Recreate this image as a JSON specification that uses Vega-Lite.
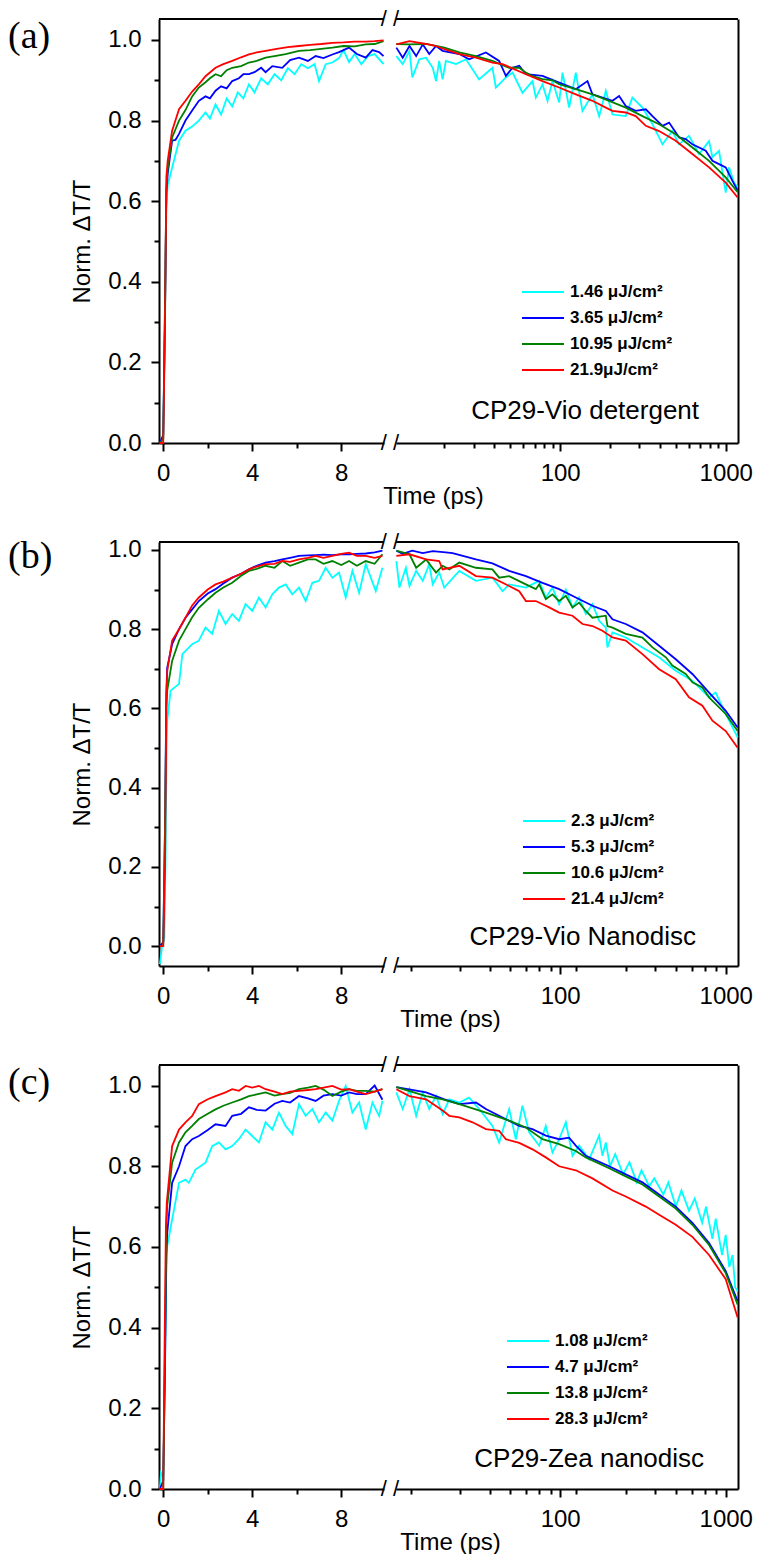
{
"$schema": "https://vega.github.io/schema/vega-lite/v6.json",
"padding": {"left": 8, "top": 8, "right": 5, "bottom": 5},
"background": "white",
"config": {
  "font": "Liberation Sans",
  "view": {"stroke": null},
  "axis": {"domainColor": "black", "domainWidth": 2, "tickColor": "black", "tickWidth": 2, "labelColor": "black", "labelFont": "Liberation Sans", "labelFontSize": 24, "titleFont": "Liberation Sans", "titleFontSize": 24, "titleFontWeight": "normal", "titleColor": "black", "grid": false, "labelFlush": false, "labelOverlap": false, "labelBound": false},
  "legend": {"labelFont": "Liberation Sans"}
},
"datasets": {
"a": [
{"s":1,"t":-0.15,"v":0},{"s":1,"t":0,"v":0.01},{"s":1,"t":0.08,"v":0.3},{"s":1,"t":0.14,"v":0.58},{"s":1,"t":0.2,"v":0.64},{"s":1,"t":0.4,"v":0.683},{"s":1,"t":0.71,"v":0.75},{"s":1,"t":1,"v":0.775},{"s":1,"t":1.3,"v":0.785},{"s":1,"t":1.6,"v":0.8},{"s":1,"t":1.9,"v":0.82},{"s":1,"t":2.1,"v":0.805},{"s":1,"t":2.35,"v":0.84},{"s":1,"t":2.6,"v":0.815},{"s":1,"t":2.85,"v":0.855},{"s":1,"t":3.1,"v":0.835},{"s":1,"t":3.35,"v":0.87},{"s":1,"t":3.6,"v":0.855},{"s":1,"t":3.85,"v":0.89},{"s":1,"t":4.1,"v":0.87},{"s":1,"t":4.4,"v":0.905},{"s":1,"t":4.7,"v":0.89},{"s":1,"t":5,"v":0.915},{"s":1,"t":5.3,"v":0.9},{"s":1,"t":5.6,"v":0.93},{"s":1,"t":5.9,"v":0.915},{"s":1,"t":6.2,"v":0.94},{"s":1,"t":6.5,"v":0.93},{"s":1,"t":6.8,"v":0.94},{"s":1,"t":7,"v":0.898},{"s":1,"t":7.3,"v":0.94},{"s":1,"t":7.6,"v":0.944},{"s":1,"t":7.9,"v":0.955},{"s":1,"t":8.1,"v":0.975},{"s":1,"t":8.35,"v":0.945},{"s":1,"t":8.6,"v":0.965},{"s":1,"t":8.9,"v":0.94},{"s":1,"t":9.2,"v":0.96},{"s":1,"t":9.5,"v":0.965},{"s":1,"t":9.9,"v":0.94},
{"s":1,"t":10.25,"v":0.96},{"s":1,"t":11.2,"v":0.94},{"s":1,"t":12.3,"v":0.973},{"s":1,"t":12.8,"v":0.907},{"s":1,"t":14.1,"v":0.952},{"s":1,"t":15.5,"v":0.956},{"s":1,"t":17,"v":0.931},{"s":1,"t":17.8,"v":0.898},{"s":1,"t":18.6,"v":0.948},{"s":1,"t":19.5,"v":0.902},{"s":1,"t":20.4,"v":0.948},{"s":1,"t":23.5,"v":0.94},{"s":1,"t":27,"v":0.952},{"s":1,"t":32.4,"v":0.902},{"s":1,"t":39,"v":0.931},{"s":1,"t":40.9,"v":0.882},{"s":1,"t":47,"v":0.907},{"s":1,"t":51.6,"v":0.919},{"s":1,"t":59.2,"v":0.869},{"s":1,"t":68.1,"v":0.898},{"s":1,"t":71.3,"v":0.857},{"s":1,"t":78.2,"v":0.89},{"s":1,"t":83.9,"v":0.849},{"s":1,"t":89.9,"v":0.898},{"s":1,"t":98.6,"v":0.845},{"s":1,"t":103.3,"v":0.919},{"s":1,"t":113.3,"v":0.832},{"s":1,"t":124.3,"v":0.919},{"s":1,"t":136.4,"v":0.824},{"s":1,"t":156.7,"v":0.865},{"s":1,"t":172,"v":0.811},{"s":1,"t":188.7,"v":0.874},{"s":1,"t":207,"v":0.815},{"s":1,"t":249,"v":0.811},{"s":1,"t":273,"v":0.857},{"s":1,"t":314,"v":0.832},{"s":1,"t":361,"v":0.791},{"s":1,"t":415,"v":0.741},{"s":1,"t":476,"v":0.774},{"s":1,"t":523,"v":0.741},{"s":1,"t":600,"v":0.762},{"s":1,"t":690,"v":0.717},{"s":1,"t":793,"v":0.749},{"s":1,"t":831,"v":0.709},{"s":1,"t":911,"v":0.725},{"s":1,"t":1000,"v":0.621},{"s":1,"t":1047,"v":0.684},{"s":1,"t":1122,"v":0.646},{"s":1,"t":1180,"v":0.634},
{"s":2,"t":-0.15,"v":0},{"s":2,"t":0,"v":0.02},{"s":2,"t":0.08,"v":0.33},{"s":2,"t":0.14,"v":0.62},{"s":2,"t":0.2,"v":0.668},{"s":2,"t":0.4,"v":0.75},{"s":2,"t":0.55,"v":0.752},{"s":2,"t":0.71,"v":0.767},{"s":2,"t":1,"v":0.8},{"s":2,"t":1.3,"v":0.825},{"s":2,"t":1.6,"v":0.849},{"s":2,"t":1.9,"v":0.86},{"s":2,"t":2.1,"v":0.855},{"s":2,"t":2.35,"v":0.874},{"s":2,"t":2.6,"v":0.885},{"s":2,"t":2.85,"v":0.88},{"s":2,"t":3.1,"v":0.898},{"s":2,"t":3.4,"v":0.905},{"s":2,"t":3.6,"v":0.915},{"s":2,"t":3.85,"v":0.915},{"s":2,"t":4.1,"v":0.92},{"s":2,"t":4.4,"v":0.931},{"s":2,"t":4.6,"v":0.92},{"s":2,"t":4.9,"v":0.935},{"s":2,"t":5.35,"v":0.931},{"s":2,"t":5.7,"v":0.95},{"s":2,"t":6.1,"v":0.956},{"s":2,"t":6.5,"v":0.948},{"s":2,"t":6.85,"v":0.96},{"s":2,"t":7.2,"v":0.955},{"s":2,"t":7.6,"v":0.964},{"s":2,"t":7.9,"v":0.97},{"s":2,"t":8.35,"v":0.981},{"s":2,"t":8.7,"v":0.965},{"s":2,"t":9.1,"v":0.956},{"s":2,"t":9.4,"v":0.975},{"s":2,"t":9.7,"v":0.97},{"s":2,"t":9.9,"v":0.96},
{"s":2,"t":10.25,"v":0.981},{"s":2,"t":11.2,"v":0.956},{"s":2,"t":12.3,"v":0.985},{"s":2,"t":13.5,"v":0.96},{"s":2,"t":14.8,"v":0.989},{"s":2,"t":16.2,"v":0.965},{"s":2,"t":17.8,"v":0.985},{"s":2,"t":19.5,"v":0.973},{"s":2,"t":24.6,"v":0.965},{"s":2,"t":28.2,"v":0.952},{"s":2,"t":35.6,"v":0.969},{"s":2,"t":42.8,"v":0.948},{"s":2,"t":47,"v":0.911},{"s":2,"t":51.6,"v":0.931},{"s":2,"t":56.6,"v":0.936},{"s":2,"t":62.1,"v":0.915},{"s":2,"t":78.2,"v":0.911},{"s":2,"t":98.6,"v":0.894},{"s":2,"t":124.3,"v":0.878},{"s":2,"t":146.2,"v":0.898},{"s":2,"t":156.7,"v":0.865},{"s":2,"t":207,"v":0.849},{"s":2,"t":227,"v":0.861},{"s":2,"t":249,"v":0.836},{"s":2,"t":286,"v":0.824},{"s":2,"t":329,"v":0.828},{"s":2,"t":361,"v":0.811},{"s":2,"t":415,"v":0.787},{"s":2,"t":455,"v":0.795},{"s":2,"t":523,"v":0.758},{"s":2,"t":573,"v":0.754},{"s":2,"t":629,"v":0.741},{"s":2,"t":757,"v":0.725},{"s":2,"t":831,"v":0.7},{"s":2,"t":911,"v":0.692},{"s":2,"t":1000,"v":0.684},{"s":2,"t":1096,"v":0.651},{"s":2,"t":1180,"v":0.626},
{"s":3,"t":-0.15,"v":0},{"s":3,"t":0,"v":0.01},{"s":3,"t":0.08,"v":0.35},{"s":3,"t":0.14,"v":0.63},{"s":3,"t":0.2,"v":0.68},{"s":3,"t":0.4,"v":0.758},{"s":3,"t":0.71,"v":0.8},{"s":3,"t":1,"v":0.826},{"s":3,"t":1.3,"v":0.86},{"s":3,"t":1.6,"v":0.882},{"s":3,"t":1.9,"v":0.895},{"s":3,"t":2.1,"v":0.905},{"s":3,"t":2.35,"v":0.915},{"s":3,"t":2.6,"v":0.91},{"s":3,"t":2.85,"v":0.925},{"s":3,"t":3.1,"v":0.931},{"s":3,"t":3.5,"v":0.935},{"s":3,"t":3.85,"v":0.944},{"s":3,"t":4.2,"v":0.948},{"s":3,"t":4.6,"v":0.956},{"s":3,"t":5,"v":0.96},{"s":3,"t":5.5,"v":0.965},{"s":3,"t":6.1,"v":0.973},{"s":3,"t":6.6,"v":0.975},{"s":3,"t":7.1,"v":0.978},{"s":3,"t":7.6,"v":0.981},{"s":3,"t":8.1,"v":0.985},{"s":3,"t":8.6,"v":0.984},{"s":3,"t":9.1,"v":0.989},{"s":3,"t":9.5,"v":0.99},{"s":3,"t":9.9,"v":0.997},
{"s":3,"t":10.25,"v":0.99},{"s":3,"t":12.3,"v":0.989},{"s":3,"t":15.5,"v":0.99},{"s":3,"t":20,"v":0.981},{"s":3,"t":24.6,"v":0.969},{"s":3,"t":31,"v":0.96},{"s":3,"t":39,"v":0.948},{"s":3,"t":49.2,"v":0.931},{"s":3,"t":56.6,"v":0.931},{"s":3,"t":62.1,"v":0.919},{"s":3,"t":68.1,"v":0.91},{"s":3,"t":78.2,"v":0.903},{"s":3,"t":89.9,"v":0.9},{"s":3,"t":98.6,"v":0.89},{"s":3,"t":124.3,"v":0.878},{"s":3,"t":156.7,"v":0.865},{"s":3,"t":197.6,"v":0.849},{"s":3,"t":249,"v":0.832},{"s":3,"t":314,"v":0.811},{"s":3,"t":396,"v":0.791},{"s":3,"t":499,"v":0.766},{"s":3,"t":629,"v":0.733},{"s":3,"t":793,"v":0.7},{"s":3,"t":1000,"v":0.659},{"s":3,"t":1180,"v":0.622},
{"s":4,"t":-0.15,"v":0},{"s":4,"t":0,"v":0},{"s":4,"t":0.08,"v":0.3},{"s":4,"t":0.14,"v":0.66},{"s":4,"t":0.2,"v":0.7},{"s":4,"t":0.4,"v":0.775},{"s":4,"t":0.71,"v":0.828},{"s":4,"t":1,"v":0.849},{"s":4,"t":1.3,"v":0.872},{"s":4,"t":1.6,"v":0.89},{"s":4,"t":1.9,"v":0.91},{"s":4,"t":2.35,"v":0.931},{"s":4,"t":2.7,"v":0.94},{"s":4,"t":3.1,"v":0.948},{"s":4,"t":3.5,"v":0.957},{"s":4,"t":3.85,"v":0.964},{"s":4,"t":4.2,"v":0.969},{"s":4,"t":4.6,"v":0.973},{"s":4,"t":5.1,"v":0.978},{"s":4,"t":5.6,"v":0.982},{"s":4,"t":6.1,"v":0.985},{"s":4,"t":6.6,"v":0.988},{"s":4,"t":7.1,"v":0.99},{"s":4,"t":7.6,"v":0.993},{"s":4,"t":8.1,"v":0.994},{"s":4,"t":8.6,"v":0.996},{"s":4,"t":9.1,"v":0.996},{"s":4,"t":9.5,"v":0.997},{"s":4,"t":9.9,"v":0.999},
{"s":4,"t":10.25,"v":0.989},{"s":4,"t":12.3,"v":0.997},{"s":4,"t":15.5,"v":0.99},{"s":4,"t":17.8,"v":0.985},{"s":4,"t":20,"v":0.977},{"s":4,"t":24.6,"v":0.965},{"s":4,"t":31,"v":0.956},{"s":4,"t":39,"v":0.944},{"s":4,"t":44.9,"v":0.94},{"s":4,"t":62.1,"v":0.915},{"s":4,"t":78.2,"v":0.898},{"s":4,"t":98.6,"v":0.882},{"s":4,"t":124.3,"v":0.865},{"s":4,"t":156.7,"v":0.849},{"s":4,"t":188.7,"v":0.832},{"s":4,"t":207,"v":0.824},{"s":4,"t":249,"v":0.82},{"s":4,"t":286,"v":0.811},{"s":4,"t":329,"v":0.787},{"s":4,"t":396,"v":0.774},{"s":4,"t":499,"v":0.75},{"s":4,"t":629,"v":0.717},{"s":4,"t":793,"v":0.684},{"s":4,"t":1000,"v":0.646},{"s":4,"t":1180,"v":0.609}
],
"b": [
{"s":1,"t":-0.15,"v":-0.045},{"s":1,"t":-0.05,"v":0},{"s":1,"t":0.05,"v":0.02},{"s":1,"t":0.1,"v":0.2},{"s":1,"t":0.15,"v":0.5},{"s":1,"t":0.18,"v":0.569},{"s":1,"t":0.33,"v":0.645},{"s":1,"t":0.71,"v":0.662},{"s":1,"t":0.86,"v":0.737},{"s":1,"t":1.3,"v":0.762},{"s":1,"t":1.6,"v":0.771},{"s":1,"t":1.9,"v":0.804},{"s":1,"t":2.2,"v":0.788},{"s":1,"t":2.5,"v":0.846},{"s":1,"t":2.8,"v":0.813},{"s":1,"t":3.1,"v":0.838},{"s":1,"t":3.4,"v":0.821},{"s":1,"t":3.7,"v":0.863},{"s":1,"t":4,"v":0.846},{"s":1,"t":4.3,"v":0.88},{"s":1,"t":4.6,"v":0.855},{"s":1,"t":4.9,"v":0.888},{"s":1,"t":5.2,"v":0.905},{"s":1,"t":5.5,"v":0.913},{"s":1,"t":5.8,"v":0.888},{"s":1,"t":6.1,"v":0.905},{"s":1,"t":6.4,"v":0.871},{"s":1,"t":6.7,"v":0.917},{"s":1,"t":7,"v":0.922},{"s":1,"t":7.3,"v":0.955},{"s":1,"t":7.6,"v":0.93},{"s":1,"t":7.9,"v":0.943},{"s":1,"t":8.2,"v":0.88},{"s":1,"t":8.5,"v":0.947},{"s":1,"t":8.8,"v":0.892},{"s":1,"t":9.1,"v":0.964},{"s":1,"t":9.55,"v":0.896},{"s":1,"t":9.85,"v":0.955},
{"s":1,"t":10.25,"v":0.972},{"s":1,"t":10.7,"v":0.905},{"s":1,"t":11.7,"v":0.955},{"s":1,"t":12.3,"v":0.909},{"s":1,"t":13.5,"v":0.947},{"s":1,"t":14.8,"v":0.922},{"s":1,"t":16.2,"v":0.964},{"s":1,"t":17,"v":0.913},{"s":1,"t":18.6,"v":0.943},{"s":1,"t":19.95,"v":0.905},{"s":1,"t":24.6,"v":0.947},{"s":1,"t":31,"v":0.922},{"s":1,"t":39,"v":0.93},{"s":1,"t":44.9,"v":0.896},{"s":1,"t":49.2,"v":0.913},{"s":1,"t":62.1,"v":0.905},{"s":1,"t":74.7,"v":0.922},{"s":1,"t":81.9,"v":0.88},{"s":1,"t":89.9,"v":0.905},{"s":1,"t":98.6,"v":0.863},{"s":1,"t":108.2,"v":0.9},{"s":1,"t":118.7,"v":0.855},{"s":1,"t":130.2,"v":0.88},{"s":1,"t":142.9,"v":0.838},{"s":1,"t":156.7,"v":0.863},{"s":1,"t":172,"v":0.821},{"s":1,"t":188.7,"v":0.804},{"s":1,"t":193,"v":0.754},{"s":1,"t":207,"v":0.792},{"s":1,"t":249,"v":0.779},{"s":1,"t":314,"v":0.754},{"s":1,"t":396,"v":0.729},{"s":1,"t":499,"v":0.695},{"s":1,"t":629,"v":0.67},{"s":1,"t":793,"v":0.628},{"s":1,"t":869,"v":0.64},{"s":1,"t":1000,"v":0.586},{"s":1,"t":1180,"v":0.527},
{"s":2,"t":-0.15,"v":0},{"s":2,"t":0,"v":0.01},{"s":2,"t":0.08,"v":0.3},{"s":2,"t":0.14,"v":0.64},{"s":2,"t":0.18,"v":0.703},{"s":2,"t":0.4,"v":0.762},{"s":2,"t":0.71,"v":0.8},{"s":2,"t":1,"v":0.829},{"s":2,"t":1.3,"v":0.85},{"s":2,"t":1.6,"v":0.871},{"s":2,"t":2,"v":0.89},{"s":2,"t":2.35,"v":0.901},{"s":2,"t":2.7,"v":0.915},{"s":2,"t":3.1,"v":0.93},{"s":2,"t":3.5,"v":0.94},{"s":2,"t":3.85,"v":0.951},{"s":2,"t":4.2,"v":0.96},{"s":2,"t":4.6,"v":0.968},{"s":2,"t":5,"v":0.972},{"s":2,"t":5.35,"v":0.976},{"s":2,"t":5.7,"v":0.98},{"s":2,"t":6.1,"v":0.985},{"s":2,"t":6.5,"v":0.986},{"s":2,"t":6.85,"v":0.987},{"s":2,"t":7.2,"v":0.988},{"s":2,"t":7.6,"v":0.987},{"s":2,"t":8,"v":0.989},{"s":2,"t":8.35,"v":0.989},{"s":2,"t":8.7,"v":0.99},{"s":2,"t":9.1,"v":0.991},{"s":2,"t":9.5,"v":0.994},{"s":2,"t":9.85,"v":0.998},
{"s":2,"t":10.25,"v":0.998},{"s":2,"t":11.2,"v":0.99},{"s":2,"t":12.8,"v":0.998},{"s":2,"t":14.8,"v":0.992},{"s":2,"t":17,"v":0.997},{"s":2,"t":20.4,"v":0.994},{"s":2,"t":22.4,"v":0.992},{"s":2,"t":31,"v":0.976},{"s":2,"t":39,"v":0.966},{"s":2,"t":49.2,"v":0.947},{"s":2,"t":62.1,"v":0.934},{"s":2,"t":78.2,"v":0.917},{"s":2,"t":98.6,"v":0.901},{"s":2,"t":124.3,"v":0.88},{"s":2,"t":156.7,"v":0.859},{"s":2,"t":188.7,"v":0.846},{"s":2,"t":207,"v":0.825},{"s":2,"t":249,"v":0.813},{"s":2,"t":314,"v":0.792},{"s":2,"t":396,"v":0.758},{"s":2,"t":499,"v":0.724},{"s":2,"t":629,"v":0.687},{"s":2,"t":793,"v":0.64},{"s":2,"t":1000,"v":0.594},{"s":2,"t":1180,"v":0.552},
{"s":3,"t":-0.15,"v":0},{"s":3,"t":0,"v":0},{"s":3,"t":0.08,"v":0.3},{"s":3,"t":0.14,"v":0.6},{"s":3,"t":0.18,"v":0.645},{"s":3,"t":0.4,"v":0.72},{"s":3,"t":0.71,"v":0.771},{"s":3,"t":1,"v":0.8},{"s":3,"t":1.3,"v":0.83},{"s":3,"t":1.6,"v":0.854},{"s":3,"t":2,"v":0.875},{"s":3,"t":2.35,"v":0.892},{"s":3,"t":2.7,"v":0.905},{"s":3,"t":3.1,"v":0.917},{"s":3,"t":3.5,"v":0.935},{"s":3,"t":3.85,"v":0.947},{"s":3,"t":4.2,"v":0.952},{"s":3,"t":4.6,"v":0.96},{"s":3,"t":5,"v":0.955},{"s":3,"t":5.35,"v":0.972},{"s":3,"t":5.7,"v":0.96},{"s":3,"t":6.1,"v":0.968},{"s":3,"t":6.5,"v":0.976},{"s":3,"t":6.85,"v":0.976},{"s":3,"t":7.2,"v":0.965},{"s":3,"t":7.6,"v":0.972},{"s":3,"t":8,"v":0.962},{"s":3,"t":8.35,"v":0.972},{"s":3,"t":8.7,"v":0.96},{"s":3,"t":9.1,"v":0.972},{"s":3,"t":9.5,"v":0.965},{"s":3,"t":9.85,"v":0.989},
{"s":3,"t":10.25,"v":0.998},{"s":3,"t":12.3,"v":0.989},{"s":3,"t":13.5,"v":0.955},{"s":3,"t":15.5,"v":0.976},{"s":3,"t":17.8,"v":0.943},{"s":3,"t":19.5,"v":0.96},{"s":3,"t":21.4,"v":0.951},{"s":3,"t":24.6,"v":0.968},{"s":3,"t":31,"v":0.955},{"s":3,"t":39,"v":0.951},{"s":3,"t":42.8,"v":0.93},{"s":3,"t":49.2,"v":0.934},{"s":3,"t":62.1,"v":0.913},{"s":3,"t":71.3,"v":0.901},{"s":3,"t":74.7,"v":0.913},{"s":3,"t":81.9,"v":0.876},{"s":3,"t":89.9,"v":0.888},{"s":3,"t":98.6,"v":0.871},{"s":3,"t":108.2,"v":0.884},{"s":3,"t":118.7,"v":0.855},{"s":3,"t":130.2,"v":0.867},{"s":3,"t":142.9,"v":0.846},{"s":3,"t":156.7,"v":0.829},{"s":3,"t":188.7,"v":0.834},{"s":3,"t":193,"v":0.808},{"s":3,"t":207,"v":0.804},{"s":3,"t":249,"v":0.788},{"s":3,"t":314,"v":0.779},{"s":3,"t":361,"v":0.754},{"s":3,"t":435,"v":0.729},{"s":3,"t":476,"v":0.708},{"s":3,"t":573,"v":0.687},{"s":3,"t":629,"v":0.666},{"s":3,"t":723,"v":0.653},{"s":3,"t":793,"v":0.628},{"s":3,"t":1000,"v":0.586},{"s":3,"t":1180,"v":0.543},
{"s":4,"t":-0.15,"v":0},{"s":4,"t":0,"v":0},{"s":4,"t":0.08,"v":0.2},{"s":4,"t":0.14,"v":0.62},{"s":4,"t":0.18,"v":0.695},{"s":4,"t":0.4,"v":0.771},{"s":4,"t":0.71,"v":0.8},{"s":4,"t":1,"v":0.829},{"s":4,"t":1.3,"v":0.86},{"s":4,"t":1.6,"v":0.88},{"s":4,"t":2,"v":0.9},{"s":4,"t":2.35,"v":0.913},{"s":4,"t":2.7,"v":0.92},{"s":4,"t":3.1,"v":0.93},{"s":4,"t":3.5,"v":0.94},{"s":4,"t":3.85,"v":0.951},{"s":4,"t":4.2,"v":0.958},{"s":4,"t":4.6,"v":0.964},{"s":4,"t":5,"v":0.965},{"s":4,"t":5.35,"v":0.972},{"s":4,"t":5.7,"v":0.97},{"s":4,"t":6.1,"v":0.976},{"s":4,"t":6.5,"v":0.98},{"s":4,"t":6.85,"v":0.985},{"s":4,"t":7.2,"v":0.98},{"s":4,"t":7.6,"v":0.985},{"s":4,"t":8,"v":0.99},{"s":4,"t":8.35,"v":0.993},{"s":4,"t":8.7,"v":0.985},{"s":4,"t":9.1,"v":0.985},{"s":4,"t":9.5,"v":0.98},{"s":4,"t":9.85,"v":0.985},
{"s":4,"t":10.25,"v":0.985},{"s":4,"t":12.3,"v":0.989},{"s":4,"t":15.5,"v":0.976},{"s":4,"t":18.6,"v":0.972},{"s":4,"t":19.5,"v":0.951},{"s":4,"t":24.6,"v":0.96},{"s":4,"t":31,"v":0.934},{"s":4,"t":39,"v":0.93},{"s":4,"t":49.2,"v":0.909},{"s":4,"t":56.6,"v":0.896},{"s":4,"t":62.1,"v":0.871},{"s":4,"t":71.3,"v":0.871},{"s":4,"t":78.2,"v":0.863},{"s":4,"t":85.8,"v":0.855},{"s":4,"t":98.6,"v":0.842},{"s":4,"t":118.7,"v":0.834},{"s":4,"t":136.4,"v":0.813},{"s":4,"t":156.7,"v":0.808},{"s":4,"t":180,"v":0.796},{"s":4,"t":207,"v":0.779},{"s":4,"t":249,"v":0.771},{"s":4,"t":314,"v":0.737},{"s":4,"t":396,"v":0.699},{"s":4,"t":499,"v":0.674},{"s":4,"t":600,"v":0.628},{"s":4,"t":723,"v":0.607},{"s":4,"t":831,"v":0.569},{"s":4,"t":1000,"v":0.543},{"s":4,"t":1180,"v":0.501}
],
"c": [
{"s":1,"t":-0.15,"v":0},{"s":1,"t":-0.1,"v":0.04},{"s":1,"t":0,"v":0.03},{"s":1,"t":0.08,"v":0.3},{"s":1,"t":0.14,"v":0.55},{"s":1,"t":0.18,"v":0.602},{"s":1,"t":0.4,"v":0.668},{"s":1,"t":0.71,"v":0.759},{"s":1,"t":1,"v":0.767},{"s":1,"t":1.15,"v":0.759},{"s":1,"t":1.45,"v":0.792},{"s":1,"t":1.9,"v":0.809},{"s":1,"t":2.2,"v":0.85},{"s":1,"t":2.5,"v":0.859},{"s":1,"t":2.8,"v":0.842},{"s":1,"t":3.1,"v":0.85},{"s":1,"t":3.4,"v":0.867},{"s":1,"t":3.7,"v":0.891},{"s":1,"t":4,"v":0.875},{"s":1,"t":4.3,"v":0.859},{"s":1,"t":4.6,"v":0.909},{"s":1,"t":4.9,"v":0.891},{"s":1,"t":5.2,"v":0.933},{"s":1,"t":5.5,"v":0.9},{"s":1,"t":5.8,"v":0.88},{"s":1,"t":6.1,"v":0.954},{"s":1,"t":6.4,"v":0.925},{"s":1,"t":6.7,"v":0.942},{"s":1,"t":7,"v":0.909},{"s":1,"t":7.3,"v":0.933},{"s":1,"t":7.6,"v":0.913},{"s":1,"t":7.9,"v":0.962},{"s":1,"t":8.2,"v":0.999},{"s":1,"t":8.5,"v":0.933},{"s":1,"t":8.8,"v":0.958},{"s":1,"t":9.1,"v":0.891},{"s":1,"t":9.4,"v":0.958},{"s":1,"t":9.7,"v":0.925},{"s":1,"t":9.85,"v":0.962},
{"s":1,"t":10.25,"v":0.983},{"s":1,"t":11.2,"v":0.942},{"s":1,"t":12.3,"v":0.991},{"s":1,"t":13.5,"v":0.925},{"s":1,"t":14.8,"v":0.983},{"s":1,"t":16.2,"v":0.942},{"s":1,"t":17.8,"v":0.974},{"s":1,"t":19.5,"v":0.929},{"s":1,"t":21.4,"v":0.966},{"s":1,"t":24.6,"v":0.958},{"s":1,"t":28.2,"v":0.97},{"s":1,"t":32.4,"v":0.942},{"s":1,"t":39,"v":0.9},{"s":1,"t":42.8,"v":0.859},{"s":1,"t":49.2,"v":0.942},{"s":1,"t":54,"v":0.867},{"s":1,"t":59.2,"v":0.95},{"s":1,"t":65,"v":0.884},{"s":1,"t":74.7,"v":0.851},{"s":1,"t":81.9,"v":0.9},{"s":1,"t":89.9,"v":0.834},{"s":1,"t":98.6,"v":0.867},{"s":1,"t":108.2,"v":0.909},{"s":1,"t":118.7,"v":0.826},{"s":1,"t":130.2,"v":0.851},{"s":1,"t":149.7,"v":0.817},{"s":1,"t":172,"v":0.876},{"s":1,"t":180,"v":0.826},{"s":1,"t":188.7,"v":0.859},{"s":1,"t":200,"v":0.8},{"s":1,"t":215,"v":0.83},{"s":1,"t":240,"v":0.78},{"s":1,"t":262,"v":0.81},{"s":1,"t":290,"v":0.76},{"s":1,"t":310,"v":0.79},{"s":1,"t":345,"v":0.75},{"s":1,"t":370,"v":0.77},{"s":1,"t":420,"v":0.73},{"s":1,"t":450,"v":0.76},{"s":1,"t":500,"v":0.7},{"s":1,"t":540,"v":0.74},{"s":1,"t":600,"v":0.69},{"s":1,"t":650,"v":0.72},{"s":1,"t":720,"v":0.66},{"s":1,"t":760,"v":0.7},{"s":1,"t":830,"v":0.62},{"s":1,"t":870,"v":0.67},{"s":1,"t":950,"v":0.58},{"s":1,"t":1000,"v":0.63},{"s":1,"t":1050,"v":0.55},{"s":1,"t":1100,"v":0.58},{"s":1,"t":1140,"v":0.5},{"s":1,"t":1180,"v":0.49},
{"s":2,"t":-0.15,"v":0},{"s":2,"t":0,"v":0.02},{"s":2,"t":0.08,"v":0.3},{"s":2,"t":0.14,"v":0.58},{"s":2,"t":0.18,"v":0.635},{"s":2,"t":0.4,"v":0.759},{"s":2,"t":0.71,"v":0.8},{"s":2,"t":1,"v":0.85},{"s":2,"t":1.3,"v":0.867},{"s":2,"t":1.6,"v":0.875},{"s":2,"t":2,"v":0.89},{"s":2,"t":2.35,"v":0.904},{"s":2,"t":2.8,"v":0.9},{"s":2,"t":3.1,"v":0.925},{"s":2,"t":3.5,"v":0.93},{"s":2,"t":3.85,"v":0.946},{"s":2,"t":4.2,"v":0.94},{"s":2,"t":4.6,"v":0.938},{"s":2,"t":5,"v":0.955},{"s":2,"t":5.35,"v":0.962},{"s":2,"t":5.7,"v":0.958},{"s":2,"t":6.1,"v":0.974},{"s":2,"t":6.5,"v":0.968},{"s":2,"t":6.85,"v":0.962},{"s":2,"t":7.2,"v":0.975},{"s":2,"t":7.6,"v":0.979},{"s":2,"t":8,"v":0.975},{"s":2,"t":8.35,"v":0.983},{"s":2,"t":8.7,"v":0.979},{"s":2,"t":9.1,"v":0.979},{"s":2,"t":9.5,"v":1},{"s":2,"t":9.85,"v":0.965},
{"s":2,"t":10.25,"v":0.996},{"s":2,"t":15.5,"v":0.983},{"s":2,"t":20,"v":0.966},{"s":2,"t":24.6,"v":0.954},{"s":2,"t":31,"v":0.958},{"s":2,"t":35.6,"v":0.942},{"s":2,"t":44.9,"v":0.921},{"s":2,"t":56.6,"v":0.9},{"s":2,"t":68.1,"v":0.892},{"s":2,"t":81.9,"v":0.876},{"s":2,"t":98.6,"v":0.867},{"s":2,"t":113.3,"v":0.871},{"s":2,"t":124.3,"v":0.851},{"s":2,"t":142.9,"v":0.826},{"s":2,"t":197.6,"v":0.8},{"s":2,"t":249,"v":0.78},{"s":2,"t":314,"v":0.76},{"s":2,"t":396,"v":0.73},{"s":2,"t":499,"v":0.7},{"s":2,"t":629,"v":0.66},{"s":2,"t":793,"v":0.61},{"s":2,"t":1000,"v":0.54},{"s":2,"t":1180,"v":0.465},
{"s":3,"t":-0.15,"v":0},{"s":3,"t":0,"v":0},{"s":3,"t":0.08,"v":0.35},{"s":3,"t":0.14,"v":0.65},{"s":3,"t":0.18,"v":0.702},{"s":3,"t":0.4,"v":0.809},{"s":3,"t":0.71,"v":0.859},{"s":3,"t":1,"v":0.884},{"s":3,"t":1.3,"v":0.9},{"s":3,"t":1.6,"v":0.917},{"s":3,"t":2,"v":0.93},{"s":3,"t":2.35,"v":0.941},{"s":3,"t":2.7,"v":0.95},{"s":3,"t":3.1,"v":0.958},{"s":3,"t":3.5,"v":0.966},{"s":3,"t":3.85,"v":0.974},{"s":3,"t":4.2,"v":0.978},{"s":3,"t":4.6,"v":0.983},{"s":3,"t":5,"v":0.975},{"s":3,"t":5.35,"v":0.979},{"s":3,"t":5.7,"v":0.982},{"s":3,"t":6.1,"v":0.991},{"s":3,"t":6.5,"v":0.995},{"s":3,"t":6.85,"v":0.999},{"s":3,"t":7.2,"v":0.99},{"s":3,"t":7.6,"v":0.974},{"s":3,"t":8,"v":0.985},{"s":3,"t":8.35,"v":0.991},{"s":3,"t":8.7,"v":0.987},{"s":3,"t":9.1,"v":0.987},{"s":3,"t":9.5,"v":0.985},{"s":3,"t":9.85,"v":0.991},
{"s":3,"t":10.25,"v":0.996},{"s":3,"t":15.5,"v":0.974},{"s":3,"t":19.5,"v":0.966},{"s":3,"t":24.6,"v":0.954},{"s":3,"t":35.6,"v":0.933},{"s":3,"t":49.2,"v":0.913},{"s":3,"t":62.1,"v":0.896},{"s":3,"t":78.2,"v":0.867},{"s":3,"t":98.6,"v":0.855},{"s":3,"t":124.3,"v":0.838},{"s":3,"t":142.9,"v":0.822},{"s":3,"t":197.6,"v":0.795},{"s":3,"t":249,"v":0.775},{"s":3,"t":314,"v":0.755},{"s":3,"t":396,"v":0.725},{"s":3,"t":499,"v":0.695},{"s":3,"t":629,"v":0.655},{"s":3,"t":793,"v":0.605},{"s":3,"t":1000,"v":0.535},{"s":3,"t":1180,"v":0.457},
{"s":4,"t":-0.15,"v":0},{"s":4,"t":0,"v":0},{"s":4,"t":0.06,"v":0.35},{"s":4,"t":0.12,"v":0.65},{"s":4,"t":0.16,"v":0.71},{"s":4,"t":0.4,"v":0.85},{"s":4,"t":0.71,"v":0.891},{"s":4,"t":1,"v":0.909},{"s":4,"t":1.3,"v":0.925},{"s":4,"t":1.6,"v":0.954},{"s":4,"t":2,"v":0.966},{"s":4,"t":2.35,"v":0.974},{"s":4,"t":2.8,"v":0.983},{"s":4,"t":3.1,"v":0.991},{"s":4,"t":3.4,"v":0.987},{"s":4,"t":3.7,"v":0.999},{"s":4,"t":4,"v":0.995},{"s":4,"t":4.3,"v":0.999},{"s":4,"t":4.6,"v":0.991},{"s":4,"t":5,"v":0.985},{"s":4,"t":5.35,"v":0.979},{"s":4,"t":5.7,"v":0.985},{"s":4,"t":6.1,"v":0.987},{"s":4,"t":6.5,"v":0.989},{"s":4,"t":6.85,"v":0.991},{"s":4,"t":7.2,"v":0.995},{"s":4,"t":7.6,"v":0.999},{"s":4,"t":8,"v":0.99},{"s":4,"t":8.35,"v":0.991},{"s":4,"t":8.7,"v":0.985},{"s":4,"t":9.1,"v":0.979},{"s":4,"t":9.5,"v":0.985},{"s":4,"t":9.85,"v":0.991},
{"s":4,"t":10.25,"v":0.991},{"s":4,"t":12.3,"v":0.974},{"s":4,"t":15.5,"v":0.966},{"s":4,"t":19.5,"v":0.938},{"s":4,"t":21.4,"v":0.925},{"s":4,"t":24.6,"v":0.921},{"s":4,"t":29.6,"v":0.909},{"s":4,"t":35.6,"v":0.892},{"s":4,"t":42.8,"v":0.888},{"s":4,"t":47,"v":0.867},{"s":4,"t":56.6,"v":0.858},{"s":4,"t":68.1,"v":0.842},{"s":4,"t":81.9,"v":0.822},{"s":4,"t":98.6,"v":0.8},{"s":4,"t":124.3,"v":0.79},{"s":4,"t":156.7,"v":0.77},{"s":4,"t":207,"v":0.74},{"s":4,"t":249,"v":0.725},{"s":4,"t":329,"v":0.7},{"s":4,"t":396,"v":0.68},{"s":4,"t":499,"v":0.655},{"s":4,"t":629,"v":0.625},{"s":4,"t":793,"v":0.58},{"s":4,"t":1000,"v":0.52},{"s":4,"t":1180,"v":0.425}
]
},
"columns": 2,
"bounds": "flush",
"spacing": {"row": 99, "column": 12},
"resolve": {"scale": {"color": "independent"}, "legend": {"color": "independent"}},
"concat": [
{
 "width": 225, "height": 424,
 "title": {"text": "(a)", "orient": "top", "anchor": "start", "frame": "bounds", "font": "Liberation Serif", "fontSize": 38, "fontWeight": "normal", "color": "black", "baseline": "top", "offset": 0, "dx": -62, "dy": 38},
 "data": {"name": "a"},
 "transform": [{"filter": "datum.t <= 10"}],
 "layer": [
  {"mark": {"type": "line", "strokeWidth": 1.8},
   "encoding": {
    "x": {"field": "t", "type": "quantitative", "scale": {"domain": [-0.19, 9.92], "nice": false, "zero": false},
          "axis": {"values": [0,2,4,6,8], "labelExpr": "datum.value % 4 === 0 ? datum.label : ''", "tickSize": {"condition": {"test": "datum.value % 4 === 0", "value": 8}, "value": 5}, "labelPadding": 10, "title": null}},
    "y": {"field": "v", "type": "quantitative", "scale": {"domain": [0, 1.052], "nice": false, "zero": false},
          "axis": {"values": [0,0.1,0.2,0.3,0.4,0.5,0.6,0.7,0.8,0.9,1], "labelExpr": "round(datum.value*10) % 2 === 0 ? format(datum.value, '.1f') : ''", "tickSize": {"condition": {"test": "round(datum.value*10) % 2 === 0", "value": 8}, "value": 5}, "labelPadding": 10, "title": "Norm. ΔT/T", "titleX": -70, "titleY": 222, "titleBaseline": "alphabetic", "titleAngle": 270}},
    "color": {"field": "s", "type": "nominal", "scale": {"domain": [1,2,3,4], "range": ["#00FFFF","#0000FF","#008000","#FF0000"]}, "legend": null}
   }},
  {"data": {"values": [{}]}, "mark": {"type": "rule", "color": "black", "strokeWidth": 2}, "encoding": {"y": {"datum": 1.052}}}
 ]
},
{
 "width": 342, "height": 424,
 "data": {"name": "a"},
 "transform": [{"filter": "datum.t > 10"}],
 "layer": [
  {"mark": {"type": "line", "strokeWidth": 1.8},
   "encoding": {
    "x": {"field": "t", "type": "quantitative", "scale": {"type": "log", "domain": [10.2, 1186], "nice": false},
          "axis": {"values": [20,30,40,50,60,70,80,90,100,200,300,400,500,600,700,800,900,1000], "format": "d", "labelExpr": "datum.value === 100 || datum.value === 1000 ? datum.label : ''", "tickSize": {"condition": {"test": "datum.value === 100 || datum.value === 1000", "value": 8}, "value": 5}, "labelPadding": 10, "title": "Time (ps)", "titleX": 37, "titleY": 60, "titleBaseline": "alphabetic", "titleAlign": "center"}},
    "y": {"field": "v", "type": "quantitative", "scale": {"domain": [0, 1.052], "nice": false, "zero": false},
          "axis": {"orient": "right", "labels": false, "ticks": false, "title": null}},
    "color": {"field": "s", "type": "nominal", "scale": {"domain": [1,2,3,4], "range": ["#00FFFF","#0000FF","#008000","#FF0000"]},
              "legend": {"orient": "none", "legendX": 125, "legendY": 263, "title": null, "symbolType": "stroke", "symbolSize": 1764, "symbolStrokeWidth": 2, "clipHeight": 20, "rowPadding": 6, "padding": 0, "labelFontSize": 17, "labelFontWeight": "bold", "labelColor": "black", "labelOffset": 5, "labelExpr": "['1.46 μJ/cm²','3.65 μJ/cm²','10.95 μJ/cm²','21.9μJ/cm²'][toNumber(datum.value)-1]"}}
   }},
  {"data": {"values": [{}]}, "mark": {"type": "rule", "color": "black", "strokeWidth": 2}, "encoding": {"y": {"datum": 1.052}}},
  {"data": {"values": [{}]}, "mark": {"type": "text", "text": "CP29-Vio detergent", "align": "right", "baseline": "alphabetic", "fontSize": 26, "color": "black"}, "encoding": {"x": {"datum": 690}, "y": {"datum": 0.06}}},
  {"data": {"values": [{}]}, "mark": {"type": "text", "text": "/ /", "align": "center", "baseline": "middle", "fontSize": 22, "color": "black"}, "encoding": {"x": {"datum": 9.38}, "y": {"datum": 0}}},
  {"data": {"values": [{}]}, "mark": {"type": "text", "text": "/ /", "align": "center", "baseline": "middle", "fontSize": 22, "color": "black"}, "encoding": {"x": {"datum": 9.38}, "y": {"datum": 1.052}}}
 ]
},
{
 "width": 225, "height": 424,
 "title": {"text": "(b)", "orient": "top", "anchor": "start", "frame": "bounds", "font": "Liberation Serif", "fontSize": 38, "fontWeight": "normal", "color": "black", "baseline": "top", "offset": 0, "dx": -62, "dy": 38},
 "data": {"name": "b"},
 "transform": [{"filter": "datum.t <= 10"}],
 "layer": [
  {"mark": {"type": "line", "strokeWidth": 1.8},
   "encoding": {
    "x": {"field": "t", "type": "quantitative", "scale": {"domain": [-0.19, 9.92], "nice": false, "zero": false},
          "axis": {"values": [0,2,4,6,8], "labelExpr": "datum.value % 4 === 0 ? datum.label : ''", "tickSize": {"condition": {"test": "datum.value % 4 === 0", "value": 8}, "value": 5}, "labelPadding": 10, "title": null}},
    "y": {"field": "v", "type": "quantitative", "scale": {"domain": [-0.05, 1.02], "nice": false, "zero": false},
          "axis": {"values": [0,0.1,0.2,0.3,0.4,0.5,0.6,0.7,0.8,0.9,1], "labelExpr": "round(datum.value*10) % 2 === 0 ? format(datum.value, '.1f') : ''", "tickSize": {"condition": {"test": "round(datum.value*10) % 2 === 0", "value": 8}, "value": 5}, "labelPadding": 10, "title": "Norm. ΔT/T", "titleX": -70, "titleY": 222, "titleBaseline": "alphabetic", "titleAngle": 270}},
    "color": {"field": "s", "type": "nominal", "scale": {"domain": [1,2,3,4], "range": ["#00FFFF","#0000FF","#008000","#FF0000"]}, "legend": null}
   }},
  {"data": {"values": [{}]}, "mark": {"type": "rule", "color": "black", "strokeWidth": 2}, "encoding": {"y": {"datum": 1.02}}}
 ]
},
{
 "width": 342, "height": 424,
 "data": {"name": "b"},
 "transform": [{"filter": "datum.t > 10"}],
 "layer": [
  {"mark": {"type": "line", "strokeWidth": 1.8},
   "encoding": {
    "x": {"field": "t", "type": "quantitative", "scale": {"type": "log", "domain": [10.2, 1186], "nice": false},
          "axis": {"values": [12.5,25,37.5,50,62.5,75,87.5,100,125,250,375,500,625,750,875,1000], "format": "d", "labelExpr": "datum.value === 100 || datum.value === 1000 ? datum.label : ''", "tickSize": {"condition": {"test": "datum.value === 100 || datum.value === 1000", "value": 8}, "value": 5}, "labelPadding": 10, "title": "Time (ps)", "titleX": 54, "titleY": 60, "titleBaseline": "alphabetic", "titleAlign": "center"}},
    "y": {"field": "v", "type": "quantitative", "scale": {"domain": [-0.05, 1.02], "nice": false, "zero": false},
          "axis": {"orient": "right", "labels": false, "ticks": false, "title": null}},
    "color": {"field": "s", "type": "nominal", "scale": {"domain": [1,2,3,4], "range": ["#00FFFF","#0000FF","#008000","#FF0000"]},
              "legend": {"orient": "none", "legendX": 126, "legendY": 269, "title": null, "symbolType": "stroke", "symbolSize": 1764, "symbolStrokeWidth": 2, "clipHeight": 20, "rowPadding": 6, "padding": 0, "labelFontSize": 17, "labelFontWeight": "bold", "labelColor": "black", "labelOffset": 5, "labelExpr": "['2.3 μJ/cm²','5.3 μJ/cm²','10.6 μJ/cm²','21.4 μJ/cm²'][toNumber(datum.value)-1]"}}
   }},
  {"data": {"values": [{}]}, "mark": {"type": "rule", "color": "black", "strokeWidth": 2}, "encoding": {"y": {"datum": 1.02}}},
  {"data": {"values": [{}]}, "mark": {"type": "text", "text": "CP29-Vio Nanodisc", "align": "right", "baseline": "alphabetic", "fontSize": 26, "color": "black"}, "encoding": {"x": {"datum": 661}, "y": {"datum": 0.004}}},
  {"data": {"values": [{}]}, "mark": {"type": "text", "text": "/ /", "align": "center", "baseline": "middle", "fontSize": 22, "color": "black"}, "encoding": {"x": {"datum": 9.38}, "y": {"datum": -0.05}}},
  {"data": {"values": [{}]}, "mark": {"type": "text", "text": "/ /", "align": "center", "baseline": "middle", "fontSize": 22, "color": "black"}, "encoding": {"x": {"datum": 9.38}, "y": {"datum": 1.02}}}
 ]
},
{
 "width": 225, "height": 424,
 "title": {"text": "(c)", "orient": "top", "anchor": "start", "frame": "bounds", "font": "Liberation Serif", "fontSize": 38, "fontWeight": "normal", "color": "black", "baseline": "top", "offset": 0, "dx": -62, "dy": 38},
 "data": {"name": "c"},
 "transform": [{"filter": "datum.t <= 10"}],
 "layer": [
  {"mark": {"type": "line", "strokeWidth": 1.8},
   "encoding": {
    "x": {"field": "t", "type": "quantitative", "scale": {"domain": [-0.19, 9.92], "nice": false, "zero": false},
          "axis": {"values": [0,2,4,6,8], "labelExpr": "datum.value % 4 === 0 ? datum.label : ''", "tickSize": {"condition": {"test": "datum.value % 4 === 0", "value": 8}, "value": 5}, "labelPadding": 10, "title": null}},
    "y": {"field": "v", "type": "quantitative", "scale": {"domain": [0, 1.051], "nice": false, "zero": false},
          "axis": {"values": [0,0.1,0.2,0.3,0.4,0.5,0.6,0.7,0.8,0.9,1], "labelExpr": "round(datum.value*10) % 2 === 0 ? format(datum.value, '.1f') : ''", "tickSize": {"condition": {"test": "round(datum.value*10) % 2 === 0", "value": 8}, "value": 5}, "labelPadding": 10, "title": "Norm. ΔT/T", "titleX": -70, "titleY": 222, "titleBaseline": "alphabetic", "titleAngle": 270}},
    "color": {"field": "s", "type": "nominal", "scale": {"domain": [1,2,3,4], "range": ["#00FFFF","#0000FF","#008000","#FF0000"]}, "legend": null}
   }},
  {"data": {"values": [{}]}, "mark": {"type": "rule", "color": "black", "strokeWidth": 2}, "encoding": {"y": {"datum": 1.051}}}
 ]
},
{
 "width": 342, "height": 424,
 "data": {"name": "c"},
 "transform": [{"filter": "datum.t > 10"}],
 "layer": [
  {"mark": {"type": "line", "strokeWidth": 1.8},
   "encoding": {
    "x": {"field": "t", "type": "quantitative", "scale": {"type": "log", "domain": [10.2, 1186], "nice": false},
          "axis": {"values": [12.5,25,37.5,50,62.5,75,87.5,100,125,250,375,500,625,750,875,1000], "format": "d", "labelExpr": "datum.value === 100 || datum.value === 1000 ? datum.label : ''", "tickSize": {"condition": {"test": "datum.value === 100 || datum.value === 1000", "value": 8}, "value": 5}, "labelPadding": 10, "title": "Time (ps)", "titleX": 54, "titleY": 60, "titleBaseline": "alphabetic", "titleAlign": "center"}},
    "y": {"field": "v", "type": "quantitative", "scale": {"domain": [0, 1.051], "nice": false, "zero": false},
          "axis": {"orient": "right", "labels": false, "ticks": false, "title": null}},
    "color": {"field": "s", "type": "nominal", "scale": {"domain": [1,2,3,4], "range": ["#00FFFF","#0000FF","#008000","#FF0000"]},
              "legend": {"orient": "none", "legendX": 110, "legendY": 266, "title": null, "symbolType": "stroke", "symbolSize": 1764, "symbolStrokeWidth": 2, "clipHeight": 20, "rowPadding": 6, "padding": 0, "labelFontSize": 17, "labelFontWeight": "bold", "labelColor": "black", "labelOffset": 5, "labelExpr": "['1.08 μJ/cm²','4.7 μJ/cm²','13.8 μJ/cm²','28.3 μJ/cm²'][toNumber(datum.value)-1]"}}
   }},
  {"data": {"values": [{}]}, "mark": {"type": "rule", "color": "black", "strokeWidth": 2}, "encoding": {"y": {"datum": 1.051}}},
  {"data": {"values": [{}]}, "mark": {"type": "text", "text": "CP29-Zea nanodisc", "align": "right", "baseline": "alphabetic", "fontSize": 26, "color": "black"}, "encoding": {"x": {"datum": 740}, "y": {"datum": 0.054}}},
  {"data": {"values": [{}]}, "mark": {"type": "text", "text": "/ /", "align": "center", "baseline": "middle", "fontSize": 22, "color": "black"}, "encoding": {"x": {"datum": 9.38}, "y": {"datum": 0}}},
  {"data": {"values": [{}]}, "mark": {"type": "text", "text": "/ /", "align": "center", "baseline": "middle", "fontSize": 22, "color": "black"}, "encoding": {"x": {"datum": 9.38}, "y": {"datum": 1.051}}}
 ]
}
]
}
